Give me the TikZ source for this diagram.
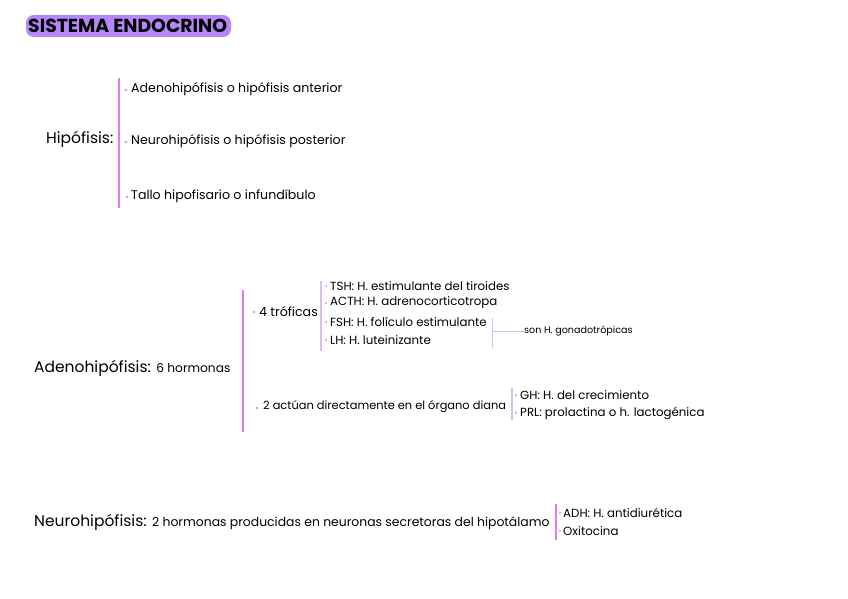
\documentclass[tikz,border=0pt]{standalone}
\usepackage{fontspec}
\setmainfont{Poppins}
\definecolor{hl}{HTML}{B587FA}
\definecolor{mag}{HTML}{E27AEC}
\definecolor{lil}{HTML}{D9BDF0}
\definecolor{dotc}{HTML}{F08AD8}
\begin{document}
\begin{tikzpicture}[x=1pt,y=-1pt,
  txt/.style={anchor=west,inner sep=0pt,text=black},
  big/.style={txt,font=\fontsize{15.5}{17}\selectfont},
  mid/.style={txt,font=\fontsize{12.6}{14}\selectfont},
  sml/.style={txt,font=\fontsize{11.8}{13}\selectfont},
  tiny/.style={txt,font=\fontsize{9.6}{11}\selectfont},
  magbar/.style={draw=mag,line width=2.2pt},
  lilbar/.style={draw=lil,line width=1.6pt},
  bul/.style={fill=dotc,circle,inner sep=0pt,minimum size=2.6pt},
  sbul/.style={bul,minimum size=2.2pt}]
\useasboundingbox (0,0) rectangle (848,599);
% title
\fill[hl,rounded corners=8pt] (26,15) rectangle (231,37);
\node[txt,font=\fontsize{18.8}{20}\selectfont\bfseries] (title) at (28,26) {SISTEMA ENDOCRINO};
% Hipofisis
\node[big] (hip) at (46,139) {Hipófisis:};
\draw[magbar] (119,78) -- (119,208);
\node[bul] (b1) at (126,90) {}; \node[mid] (h1) at (131,89) {Adenohipófisis o hipófisis anterior};
\node[bul] (b2) at (126,142) {}; \node[mid] (h2) at (131,141) {Neurohipófisis o hipófisis posterior};
\node[bul] (b3) at (127,197) {}; \node[mid] (h3) at (131,196) {Tallo hipofisario o infundíbulo};
% Adenohipofisis
\node[big] (ad) at (34,368) {Adenohipófisis: {\fontsize{12.2}{14}\selectfont 6 hormonas}};
\draw[magbar] (243,290) -- (243,432);
\node[bul] (b4) at (254,312) {}; \node[mid] (tro) at (259,312) {4 tróficas};
\draw[lilbar] (321,281) -- (321,351);
\node[sbul] at (326,286) {}; \node[sml] (tsh) at (330,286) {TSH: H. estimulante del tiroides};
\node[sbul] at (326,303) {}; \node[sml] (acth) at (330,303) {ACTH: H. adrenocorticotropa};
\node[sbul] at (326,322) {}; \node[sml] (fsh) at (330,322) {FSH: H. folículo estimulante};
\node[sbul] at (326,340) {}; \node[sml] (lh) at (330,340) {LH: H. luteinizante};
\draw[lil,line width=0.9pt] (492,318) -- (492,348);
\node[tiny] (gon) at (524,331) {son H. gonadotrópicas};
\draw[lil,line width=0.9pt] (492,331) -- (gon.west);
\node[bul] (b5) at (257,408) {}; \node[mid,font=\fontsize{11.4}{13}\selectfont] (dos) at (263,407) {2 actúan directamente en el órgano diana};
\draw[lilbar] (512,388) -- (512,420);
\node[sbul] at (516,395) {}; \node[sml] (gh) at (520,395) {GH: H. del crecimiento};
\node[sbul] at (516,413) {}; \node[sml] (prl) at (520,413) {PRL: prolactina o h. lactogénica};
% Neurohipofisis
\node[big] (neu) at (34,522) {Neurohipófisis: {\fontsize{12.4}{14}\selectfont 2 hormonas producidas en neuronas secretoras del hipotálamo}};
\draw[magbar] (556,504) -- (556,540);
\node[sbul] at (560,513) {}; \node[sml] (adh) at (563,513) {ADH: H. antidiurética};
\node[sbul] at (560,531) {}; \node[sml] (oxi) at (563,531) {Oxitocina};
\end{tikzpicture}
\end{document}
